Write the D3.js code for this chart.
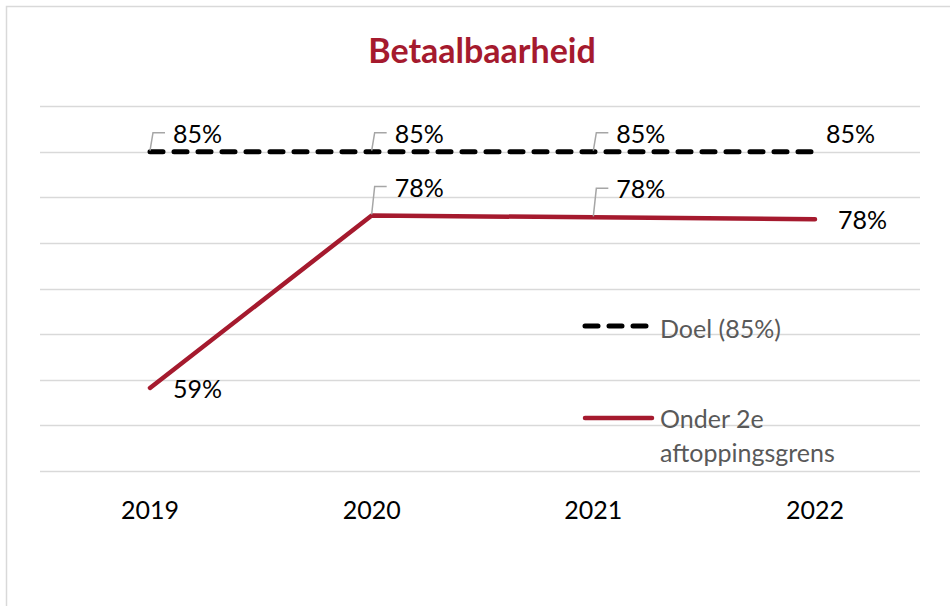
<!DOCTYPE html>
<html>
<head>
<meta charset="utf-8">
<script src="https://cdn.jsdelivr.net/npm/d3@7"></script>
<style>
  body { margin: 0; background: #fff; }
  svg { display: block; font-family: Lato, "Open Sans", sans-serif; }
</style>
</head>
<body>
<div id="chart"></div>
<script>
const years = ["2019", "2020", "2021", "2022"];
const doel = [85, 85, 85, 85];
const onder = [59.1, 78.0, 77.8, 77.6];
const yTicks = [50, 55, 60, 65, 70, 75, 80, 85, 90];
const seriesNames = ["Doel (85%)", "Onder 2e aftoppingsgrens"];

const W = 950, H = 606;
const red = "#a51a2e";
const fs = 25;

const svg = d3.select("#chart").append("svg")
    .attr("width", W).attr("height", H);

// chart frame
svg.append("rect")
    .attr("x", 6.5).attr("y", 6.5)
    .attr("width", 1000).attr("height", 700)
    .attr("fill", "#fff").attr("stroke", "#d9d9d9").attr("stroke-width", 1.5);

const x = d3.scalePoint().domain(years).range([150, 815]);
const y = d3.scaleLinear().domain([50, 90]).range([471, 106]);

// gridlines
svg.append("g").selectAll("line")
    .data(yTicks).join("line")
    .attr("x1", 40).attr("x2", 920)
    .attr("y1", d => Math.round(y(d)) + 0.5).attr("y2", d => Math.round(y(d)) + 0.5)
    .attr("stroke", "#d9d9d9").attr("stroke-width", 1.3);

// title
svg.append("text")
    .attr("x", 482).attr("y", 63)
    .attr("text-anchor", "middle")
    .attr("font-size", 34).attr("font-weight", "bold")
    .attr("fill", red)
    .text("Betaalbaarheid");

// x axis labels
svg.append("g").selectAll("text")
    .data(years).join("text")
    .attr("x", d => x(d)).attr("y", 519)
    .attr("text-anchor", "middle")
    .attr("font-size", fs).attr("fill", "#000")
    .text(d => d);

const line = d3.line().x((d, i) => x(years[i])).y(d => y(d));

svg.append("path")
    .datum(doel)
    .attr("d", line)
    .attr("fill", "none").attr("stroke", "#000")
    .attr("stroke-width", 5).attr("stroke-linecap", "round")
    .attr("stroke-dasharray", "13 11");

svg.append("path")
    .datum(onder)
    .attr("d", line)
    .attr("fill", "none").attr("stroke", red)
    .attr("stroke-width", 4.5).attr("stroke-linecap", "round")
    .attr("stroke-linejoin", "round");

// data labels
function labels(values, rise, lastDx, lastDy, firstLeader) {
  const g = svg.append("g");
  values.forEach((v, i) => {
    const px = x(years[i]), py = y(v);
    const last = i === years.length - 1;
    const leader = !last && (firstLeader || i > 0);
    let tx, ty;
    if (leader) {
      const ly = py - rise;
      g.append("path")
        .attr("d", `M${px},${py - 1}L${px + 3},${ly}L${px + 15},${ly}`)
        .attr("fill", "none").attr("stroke", "#a6a6a6").attr("stroke-width", 1.5);
      tx = px + 23; ty = ly + 10;
    } else if (last) {
      tx = px + lastDx; ty = py + lastDy;
    } else {
      tx = px + 23; ty = py + 10;
    }
    g.append("text")
      .attr("x", tx).attr("y", ty)
      .attr("font-size", fs).attr("fill", "#000")
      .text(Math.round(v) + "%");
  });
}
labels(doel, 19, 11, -9, true);
labels(onder, 29, 23, 10, false);

// legend
const leg = svg.append("g");
leg.append("line")
    .attr("x1", 585).attr("x2", 648).attr("y1", 326).attr("y2", 326)
    .attr("stroke", "#000").attr("stroke-width", 5)
    .attr("stroke-linecap", "round").attr("stroke-dasharray", "13 11");
leg.append("text")
    .attr("x", 660).attr("y", 338)
    .attr("font-size", fs).attr("fill", "#595959")
    .text(seriesNames[0]);
leg.append("line")
    .attr("x1", 585).attr("x2", 652).attr("y1", 418).attr("y2", 418)
    .attr("stroke", red).attr("stroke-width", 4.5).attr("stroke-linecap", "round");
const t2 = leg.append("text")
    .attr("x", 660).attr("y", 428)
    .attr("font-size", fs).attr("fill", "#595959");
t2.append("tspan").attr("x", 660).text("Onder 2e");
t2.append("tspan").attr("x", 660).attr("dy", 34).text("aftoppingsgrens");
</script>
</body>
</html>
